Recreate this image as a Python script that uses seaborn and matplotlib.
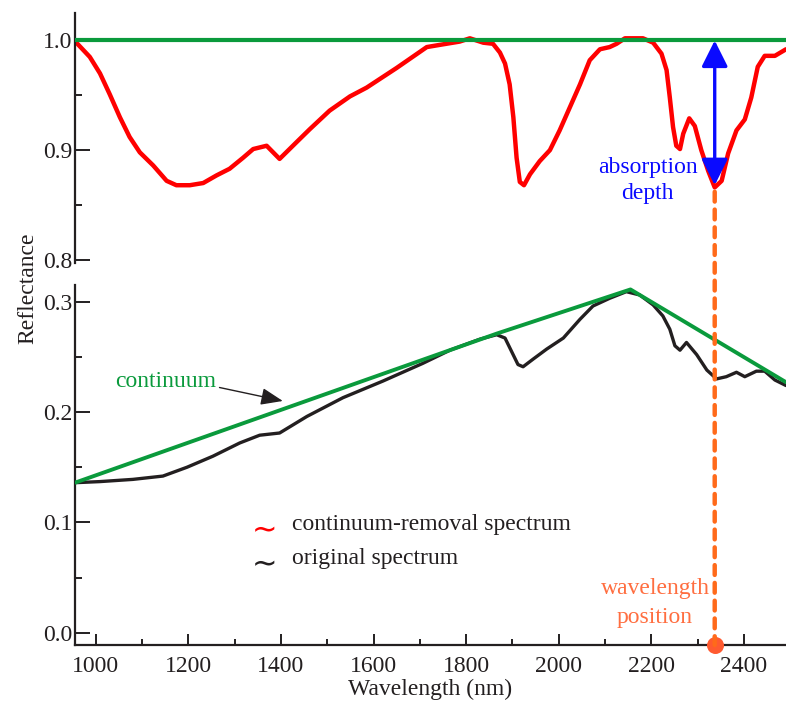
import matplotlib
matplotlib.use("Agg")
import matplotlib.pyplot as plt
import numpy as np
import pandas as pd
import seaborn as sns
from matplotlib.patches import ArrowStyle, ConnectionPatch

# continuum-removed spectrum (top panel)
cr_wl = [955, 958, 987, 1009, 1030, 1052, 1073, 1095, 1124, 1153, 1174, 1203,
         1232, 1261, 1289, 1318, 1340, 1369, 1397, 1433, 1462, 1505, 1549, 1585,
         1650, 1715, 1743, 1786, 1808, 1837, 1858, 1873, 1884, 1894, 1902, 1909,
         1916, 1925, 1938, 1959, 1981, 2002, 2024, 2046, 2067, 2089, 2110, 2125,
         2143, 2182, 2204, 2222, 2233, 2240, 2247, 2254, 2262, 2269, 2282, 2294,
         2308, 2323, 2337, 2352, 2366, 2384, 2402, 2416, 2430, 2445, 2467, 2491]
cr_val = [1.000, 0.998, 0.985, 0.970, 0.951, 0.930, 0.912, 0.898, 0.886, 0.872,
          0.868, 0.868, 0.870, 0.877, 0.883, 0.893, 0.901, 0.904, 0.892, 0.907,
          0.919, 0.936, 0.949, 0.957, 0.975, 0.994, 0.996, 0.999, 1.002, 0.998,
          0.997, 0.989, 0.979, 0.960, 0.930, 0.893, 0.871, 0.868, 0.878, 0.890,
          0.900, 0.918, 0.939, 0.960, 0.982, 0.992, 0.994, 0.997, 1.002, 1.002,
          0.998, 0.988, 0.973, 0.948, 0.921, 0.904, 0.901, 0.915, 0.929, 0.922,
          0.900, 0.881, 0.866, 0.872, 0.897, 0.918, 0.928, 0.948, 0.976, 0.986,
          0.986, 0.992]

# original spectrum (bottom panel)
orig_wl = [955, 1009, 1080, 1145, 1197, 1253, 1311, 1354, 1397, 1456, 1534, 1620,
           1706, 1765, 1830, 1866, 1884, 1898, 1912, 1923, 1945, 1974, 2010, 2046,
           2074, 2110, 2146, 2175, 2204, 2225, 2240, 2251, 2262, 2276, 2298, 2320,
           2341, 2362, 2384, 2402, 2427, 2445, 2467, 2491]
orig_val = [0.136, 0.137, 0.139, 0.142, 0.150, 0.160, 0.172, 0.179, 0.181, 0.196,
            0.213, 0.228, 0.244, 0.256, 0.266, 0.270, 0.267, 0.255, 0.243, 0.241,
            0.248, 0.257, 0.267, 0.284, 0.296, 0.303, 0.309, 0.306, 0.297, 0.287,
            0.275, 0.260, 0.256, 0.263, 0.252, 0.238, 0.230, 0.232, 0.236, 0.232,
            0.237, 0.237, 0.229, 0.224]

# continuum hull
hull_wl = [955, 1866, 2155, 2491]
hull_val = [0.136, 0.271, 0.311, 0.227]
top_hull_wl = [955, 2491]
top_hull_val = [1.0, 1.0]

x_ticks = [1000, 1200, 1400, 1600, 1800, 2000, 2200, 2400]
top_ticks = [0.8, 0.9, 1.0]
bot_ticks = [0.0, 0.1, 0.2, 0.3]

RED = "#ff0000"
GREEN = "#0a9a3c"
DARK = "#231f20"
BLUE = "#0a0aff"
ORANGE = "#ff6a1a"

sns.set_style("ticks")
plt.rcParams["font.family"] = ["Liberation Serif", "DejaVu Serif"]
plt.rcParams["font.size"] = 17
plt.rcParams["text.color"] = DARK
plt.rcParams["axes.labelcolor"] = DARK
plt.rcParams["xtick.color"] = DARK
plt.rcParams["ytick.color"] = DARK
plt.rcParams["axes.edgecolor"] = DARK

fig = plt.figure(figsize=(7.86, 7.11), dpi=100)
ax_top = fig.add_axes([0.0954, 0.630, 0.9046, 0.3516])
ax_bot = fig.add_axes([0.0954, 0.0928, 0.9046, 0.5063])

cr = pd.DataFrame({"wl": cr_wl, "val": cr_val})
orig = pd.DataFrame({"wl": orig_wl, "val": orig_val})

sns.lineplot(data=cr, x="wl", y="val", ax=ax_top, color=RED, lw=3.2,
             sort=False, estimator=None, solid_joinstyle="round")
sns.lineplot(x=top_hull_wl, y=top_hull_val, ax=ax_top, color=GREEN, lw=3,
             estimator=None, zorder=3)
sns.lineplot(data=orig, x="wl", y="val", ax=ax_bot, color=DARK, lw=2.4,
             sort=False, estimator=None, solid_joinstyle="round")
sns.lineplot(x=hull_wl, y=hull_val, ax=ax_bot, color=GREEN, lw=2.8,
             estimator=None, zorder=3, solid_joinstyle="round")

xlim = (955, 2491)
for ax in (ax_top, ax_bot):
    ax.set_xlim(*xlim)
    ax.set_xlabel("")
    ax.set_ylabel("")
    ax.patch.set_alpha(0)
    for s in ("top", "right"):
        ax.spines[s].set_visible(False)
    ax.spines["left"].set_linewidth(1.6)
    ax.tick_params(axis="y", direction="in", length=11, width=1.4, pad=2,
                   labelsize=17)
    ax.tick_params(axis="y", which="minor", direction="in", length=5, width=1.4)

ax_top.set_ylim(0.797, 1.025)
ax_top.set_yticks(top_ticks)
ax_top.set_yticks([0.85, 0.95], minor=True)
ax_top.set_yticklabels([f"{t:.1f}" for t in top_ticks])
ax_top.spines["bottom"].set_visible(False)
ax_top.set_xticks([])

ax_bot.set_ylim(-0.011, 0.315)
ax_bot.set_yticks(bot_ticks)
ax_bot.set_yticks([0.05, 0.15, 0.25], minor=True)
ax_bot.set_yticklabels([f"{t:.1f}" for t in bot_ticks])
ax_bot.set_xticks(x_ticks)
ax_bot.set_xticks([1100, 1300, 1500, 1700, 1900, 2100, 2300], minor=True)
ax_bot.spines["bottom"].set_linewidth(1.6)
ax_bot.tick_params(axis="x", direction="in", length=8, width=1.4, pad=8,
                   labelsize=17)
ax_bot.tick_params(axis="x", which="minor", direction="in", length=4, width=1.4)
ax_bot.set_xlabel("Wavelength (nm)", fontsize=17, labelpad=1)

fig.text(28 / 786, 1 - 288 / 711, "Reflectance", rotation=90, ha="center",
         va="center", fontsize=17)

# absorption feature
i_min = int(np.argmin(cr_val))
pos_wl = cr_wl[i_min]
depth_bottom = cr_val[i_min]

ax_top.annotate("", xy=(pos_wl, 1.0), xytext=(pos_wl, depth_bottom + 0.002),
                arrowprops=dict(arrowstyle=ArrowStyle("<|-|>", head_length=0.8,
                                                      head_width=0.4),
                                mutation_scale=20, color=BLUE, lw=2.4,
                                shrinkA=0, shrinkB=0), zorder=5)
ax_top.text(2192, 0.872, "absorption\ndepth", color=BLUE, ha="center",
            va="center", fontsize=17, linespacing=1.3)

con = ConnectionPatch(xyA=(pos_wl, depth_bottom - 0.004), coordsA=ax_top.transData,
                      xyB=(pos_wl, -0.011), coordsB=ax_bot.transData,
                      color=ORANGE, lw=3.2, linestyle=(0, (2.2, 1.8)), zorder=4)
fig.add_artist(con)
ax_bot.scatter([pos_wl], [-0.011], s=150, color="#ff5a30", zorder=6,
               clip_on=False, linewidths=0)
ax_bot.text(2208, 0.027, "wavelength\nposition", color="#ff6e40", ha="center",
            va="center", fontsize=17, linespacing=1.5)

# continuum label
ax_bot.annotate("continuum", xy=(1404, 0.210), xytext=(1151, 0.2276),
                color=GREEN, ha="center", va="center", fontsize=17,
                arrowprops=dict(arrowstyle=ArrowStyle("-|>", head_length=0.9,
                                                      head_width=0.35),
                                mutation_scale=15, color=DARK, lw=1.0,
                                shrinkA=0, shrinkB=0, relpos=(1.0, 0.25)))

# legend drawn as text with tilde glyphs
ax_bot.text(1336, 0.093, "\u223c", color=RED, ha="left", va="center",
            fontsize=22, family=["DejaVu Sans"])
ax_bot.text(1423, 0.098, "continuum-removal spectrum", ha="left", va="center",
            fontsize=17)
ax_bot.text(1336, 0.062, "\u223c", color=DARK, ha="left", va="center",
            fontsize=22, family=["DejaVu Sans"])
ax_bot.text(1423, 0.067, "original spectrum", ha="left", va="center",
            fontsize=17)

fig.savefig("out.png", dpi=100)
